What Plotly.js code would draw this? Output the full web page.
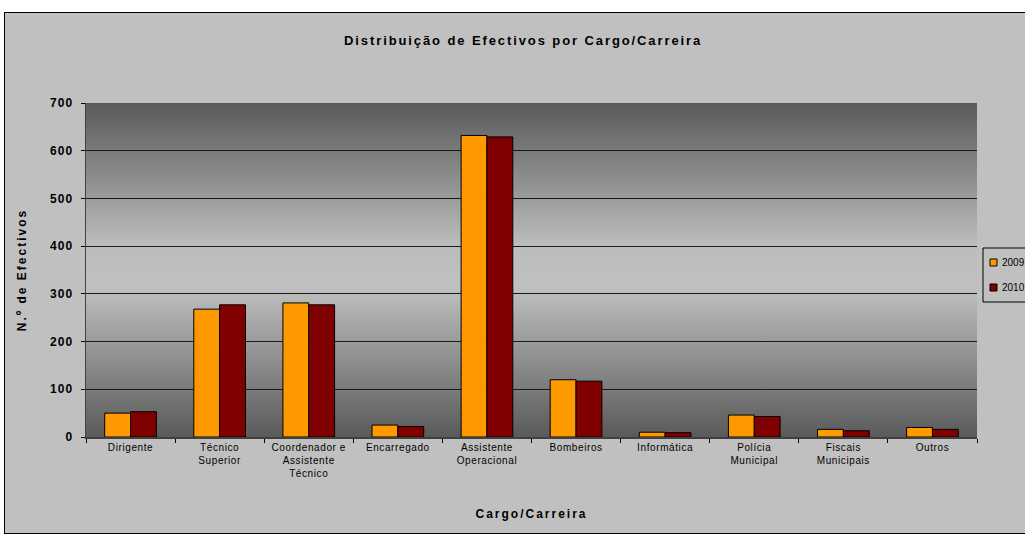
<!DOCTYPE html>
<html><head><meta charset="utf-8">
<script src="https://cdn.plot.ly/plotly-3.0.1.min.js"></script>
<style>
html,body{margin:0;padding:0;background:#fff;overflow:hidden;width:1025px;height:536px;}
#chart{position:absolute;left:4px;top:12px;width:1030px;height:520px;border:1px solid #000;background:#c0c0c0;}
#chart .gtitle{letter-spacing:1.9px;}
#chart .xtitle,#chart .ytitle{letter-spacing:2px;}
#chart .xtick text{letter-spacing:0.6px;}
#chart .ytick text{letter-spacing:1px;}
</style></head>
<body><div id="chart"></div>
<script>
const categories = ["Dirigente","Técnico<br>Superior","Coordenador e<br>Assistente<br>Técnico","Encarregado","Assistente<br>Operacional","Bombeiros","Informática","Polícia<br>Municipal","Fiscais<br>Municipais","Outros"];
const seriesNames = ["2009","2010"];
const seriesColors = ["#ff9900","#800000"];
const values2009 = [50, 268, 281, 25, 632, 120, 10, 46, 16, 20];
const values2010 = [53, 277, 277, 22, 629, 117, 9, 43, 13, 16];
const yTicks = [0,100,200,300,400,500,600,700];

const grad = 'data:image/svg+xml;utf8,' + encodeURIComponent(
 '<svg xmlns="http://www.w3.org/2000/svg" width="100" height="100" preserveAspectRatio="none">' +
 '<defs><linearGradient id="g" x1="0" y1="0" x2="0" y2="1">' +
 '<stop offset="0" stop-color="#5a5a5a"/><stop offset="0.22" stop-color="#8c8c8c"/>' +
 '<stop offset="0.42" stop-color="#bcbcbc"/><stop offset="0.55" stop-color="#c0c0c0"/>' +
 '<stop offset="0.78" stop-color="#8c8c8c"/><stop offset="1" stop-color="#5a5a5a"/>' +
 '</linearGradient></defs><rect width="100" height="100" fill="url(#g)"/></svg>');

const allValues = [values2009, values2010];
const traces = allValues.map((vals, i) => ({type:'bar', name:seriesNames[i], x:categories, y:vals, showlegend:false,
  marker:{color:seriesColors[i], line:{color:'#000', width:1}}}));

// plot area in window pixels: x 86..977, y 103..437
const PX0 = 86, PW = 891, PY0 = 437, PH = 334;
const px = v => (v - PX0) / PW;
const py = v => (PY0 - v) / PH;

// custom legend (box, keys, labels)
const shapes = [{type:'rect', xref:'paper', yref:'paper', x0:px(983), x1:px(1040), y0:py(302), y1:py(248),
  fillcolor:'#c0c0c0', line:{color:'#000', width:1}, layer:'above'}];
const annotations = [];
seriesNames.forEach((nm, i) => {
 const cy = 262.5 + i*25;
 shapes.push({type:'rect', xref:'paper', yref:'paper', x0:px(990), x1:px(997), y0:py(cy+3.5), y1:py(cy-3.5),
  fillcolor:seriesColors[i], line:{color:'#000', width:1}, layer:'above'});
 annotations.push({text:nm, xref:'paper', yref:'paper', x:px(999.5), y:py(cy), xanchor:'left', yanchor:'middle',
  showarrow:false, font:{size:10}});
});

const layout = {
 width:1030, height:520,
 margin:{l:81, r:58, t:90, b:96, autoexpand:false},
 paper_bgcolor:'#c0c0c0', plot_bgcolor:'rgba(0,0,0,0)',
 font:{family:'"Liberation Sans", Arial, sans-serif', color:'#000', size:10},
 title:{text:'<b>Distribuição de Efectivos por Cargo/Carreira</b>', x:0.503, xanchor:'center', y:1-27/520, yanchor:'middle', font:{size:13}},
 barmode:'group', bargap:0.42, bargroupgap:0,
 showlegend:false,
 xaxis:{type:'category', tickson:'boundaries', ticks:'outside', ticklen:4, tickcolor:'#000', showline:true, linecolor:'#404040', linewidth:1.5,
  tickfont:{size:10}, title:{text:'<b>Cargo/Carreira</b>', font:{size:12}, standoff:32}, showgrid:false},
 yaxis:{range:[0,700], tickvals:yTicks, ticktext:yTicks.map(String), ticks:'outside', ticklen:4, tickcolor:'#000', showline:true, linecolor:'#404040', linewidth:1.5,
  ticklabelstandoff:5,
  gridcolor:'#1a1a1a', gridwidth:1, zeroline:false, tickfont:{size:12, weight:'bold'}, title:{text:'<b>N.º de Efectivos</b>', font:{size:12}, standoff:24}},
 shapes: shapes,
 annotations: annotations,
 images:[{source:grad, xref:'paper', yref:'paper', x:0, y:1, sizex:1, sizey:1, sizing:'stretch', layer:'below', xanchor:'left', yanchor:'top'}]
};
Plotly.newPlot('chart', traces, layout, {displayModeBar:false, staticPlot:true});
</script></body></html>
